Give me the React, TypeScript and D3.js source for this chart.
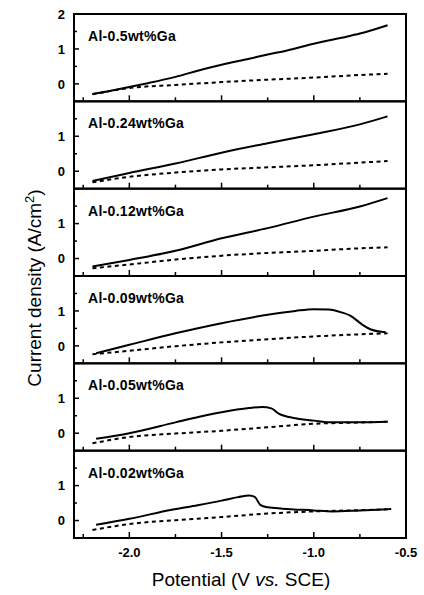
import React, { useEffect, useRef } from 'react';
import * as d3 from 'd3';

// alloy names, top panel first
const alloys = ['Al-0.5wt%Ga', 'Al-0.24wt%Ga', 'Al-0.12wt%Ga', 'Al-0.09wt%Ga', 'Al-0.05wt%Ga', 'Al-0.02wt%Ga'];

// solid curves [potential V, current density A/cm2]
const solid05 = [[-2.2, -0.29], [-2.1, -0.2], [-2.0, -0.09], [-1.9, 0.02], [-1.75, 0.2], [-1.6, 0.42], [-1.5, 0.55], [-1.35, 0.72], [-1.25, 0.84], [-1.15, 0.95], [-1.0, 1.15], [-0.85, 1.32], [-0.75, 1.44], [-0.6, 1.68]];
const solid024 = [[-2.2, -0.28], [-2.0, -0.05], [-1.75, 0.22], [-1.5, 0.53], [-1.25, 0.8], [-1.0, 1.06], [-0.75, 1.34], [-0.6, 1.57]];
const solid012 = [[-2.2, -0.23], [-2.0, -0.04], [-1.75, 0.22], [-1.5, 0.58], [-1.25, 0.87], [-1.0, 1.2], [-0.75, 1.49], [-0.6, 1.73]];
const solid009 = [[-2.18, -0.21], [-2.0, 0.03], [-1.75, 0.36], [-1.5, 0.65], [-1.25, 0.89], [-1.1, 1.0], [-1.0, 1.05], [-0.92, 1.04], [-0.85, 0.96], [-0.8, 0.86], [-0.74, 0.62], [-0.69, 0.47], [-0.61, 0.39]];
const solid005 = [[-2.18, -0.16], [-2.0, 0.0], [-1.75, 0.31], [-1.62, 0.47], [-1.5, 0.6], [-1.35, 0.72], [-1.28, 0.75], [-1.23, 0.71], [-1.19, 0.56], [-1.1, 0.43], [-1.0, 0.36], [-0.9, 0.31], [-0.75, 0.31], [-0.6, 0.33]];
const solid002 = [[-2.18, -0.12], [-2.0, 0.05], [-1.77, 0.31], [-1.63, 0.44], [-1.5, 0.57], [-1.41, 0.67], [-1.35, 0.72], [-1.32, 0.68], [-1.29, 0.45], [-1.25, 0.38], [-1.17, 0.34], [-1.0, 0.29], [-0.9, 0.26], [-0.75, 0.29], [-0.58, 0.33]];

// dotted curves
const dash05 = [[-2.2, -0.3], [-2.0, -0.12], [-1.75, -0.03], [-1.5, 0.05], [-1.25, 0.12], [-1.0, 0.18], [-0.8, 0.24], [-0.6, 0.29]];
const dash024 = [[-2.2, -0.32], [-2.0, -0.16], [-1.75, -0.04], [-1.5, 0.05], [-1.25, 0.11], [-1.0, 0.17], [-0.8, 0.23], [-0.6, 0.29]];
const dash012 = [[-2.2, -0.28], [-2.0, -0.17], [-1.75, -0.03], [-1.5, 0.08], [-1.25, 0.16], [-1.0, 0.22], [-0.8, 0.28], [-0.6, 0.32]];
const dash009 = [[-2.2, -0.24], [-2.0, -0.14], [-1.75, -0.01], [-1.5, 0.1], [-1.25, 0.19], [-1.0, 0.27], [-0.8, 0.32], [-0.6, 0.36]];
const dash005 = [[-2.2, -0.29], [-2.0, -0.11], [-1.75, -0.01], [-1.5, 0.07], [-1.25, 0.17], [-1.0, 0.27], [-0.8, 0.3], [-0.6, 0.33]];
const dash002 = [[-2.2, -0.27], [-2.0, -0.1], [-1.75, 0.01], [-1.5, 0.1], [-1.25, 0.2], [-1.0, 0.26], [-0.8, 0.29], [-0.6, 0.32]];

const solids = [solid05, solid024, solid012, solid009, solid005, solid002];
const dashes = [dash05, dash024, dash012, dash009, dash005, dash002];

const xMajor = [-2.0, -1.5, -1.0, -0.5];
const xMinor = [-2.25, -1.75, -1.25, -0.75];
const yMajor = [0, 1, 2];
const yMinor = [0.5, 1.5];

const W = 424, H = 595;
const left = 74, right = 406, top = 14, bottom = 538;
const font = "'Liberation Sans', Arial, sans-serif";

const App = () => {
  const ref = useRef(null);

  useEffect(() => {
    const svg = d3.select(ref.current);
    svg.selectAll('*').remove();

    const x = d3.scaleLinear().domain([-2.3, -0.5]).range([left, right]);
    const panel = d3.scaleBand().domain(alloys).range([top, bottom]).padding(0);
    const ph = panel.bandwidth();

    alloys.forEach((name, i) => {
      const p0 = panel(name);
      const y = d3.scaleLinear().domain([-0.5, 2.0]).range([p0 + ph, p0]);
      const g = svg.append('g');

      const line = d3.line().x(d => x(d[0])).y(d => y(d[1])).curve(d3.curveMonotoneX);

      g.append('path').datum(dashes[i]).attr('d', line)
        .attr('fill', 'none').attr('stroke', '#000').attr('stroke-width', 2)
        .attr('stroke-dasharray', '4,3.5');
      g.append('path').datum(solids[i]).attr('d', line)
        .attr('fill', 'none').attr('stroke', '#000').attr('stroke-width', 2);

      // left ticks (inward)
      yMajor.forEach(t => {
        g.append('line').attr('x1', left).attr('x2', left + 5)
          .attr('y1', y(t)).attr('y2', y(t)).attr('stroke', '#000').attr('stroke-width', 1.5);
      });
      yMinor.forEach(t => {
        g.append('line').attr('x1', left).attr('x2', left + 3)
          .attr('y1', y(t)).attr('y2', y(t)).attr('stroke', '#000').attr('stroke-width', 1.5);
      });
      const labels = i === 0 ? yMajor : yMajor.filter(t => t < 2);
      labels.forEach(t => {
        g.append('text').attr('x', left - 9).attr('y', y(t)).attr('dy', '0.36em')
          .attr('text-anchor', 'end').attr('font-family', font).attr('font-weight', 'bold')
          .attr('font-size', 13).text(t);
      });

      // bottom ticks (inward)
      xMajor.forEach(t => {
        g.append('line').attr('x1', x(t)).attr('x2', x(t))
          .attr('y1', p0 + ph).attr('y2', p0 + ph - 6).attr('stroke', '#000').attr('stroke-width', 1.5);
      });
      xMinor.forEach(t => {
        g.append('line').attr('x1', x(t)).attr('x2', x(t))
          .attr('y1', p0 + ph).attr('y2', p0 + ph - 4).attr('stroke', '#000').attr('stroke-width', 1.5);
      });

      g.append('text').attr('x', 88).attr('y', p0 + 27)
        .attr('font-family', font).attr('font-weight', 'bold').attr('font-size', 14)
        .attr('letter-spacing', 0.3).text(name);

      g.append('rect').attr('x', left).attr('y', p0).attr('width', right - left).attr('height', ph)
        .attr('fill', 'none').attr('stroke', '#000').attr('stroke-width', 2);
    });

    // x tick labels (plain hyphen, as in the original)
    xMajor.forEach(t => {
      svg.append('text').attr('x', x(t)).attr('y', 557).attr('text-anchor', 'middle')
        .attr('font-family', font).attr('font-weight', 'bold').attr('font-size', 13)
        .text(t.toFixed(1));
    });

    const xl = svg.append('text').attr('x', 241).attr('y', 586).attr('text-anchor', 'middle')
      .attr('font-family', font).attr('font-size', 19);
    xl.append('tspan').text('Potential (V ');
    xl.append('tspan').attr('font-style', 'italic').text('vs.');
    xl.append('tspan').text(' SCE)');

    const yl = svg.append('text').attr('transform', 'translate(41,288) rotate(-90)')
      .attr('text-anchor', 'middle').attr('font-family', font).attr('font-size', 19);
    yl.append('tspan').text('Current density (A/cm');
    yl.append('tspan').attr('font-size', 13).attr('dy', -7).text('2');
    yl.append('tspan').attr('dy', 7).text(')');
  }, []);

  return (
    <svg ref={ref} width={W} height={H}
      style={{ position: 'absolute', left: 0, top: 0, background: '#fff' }} />
  );
};

export default App;
